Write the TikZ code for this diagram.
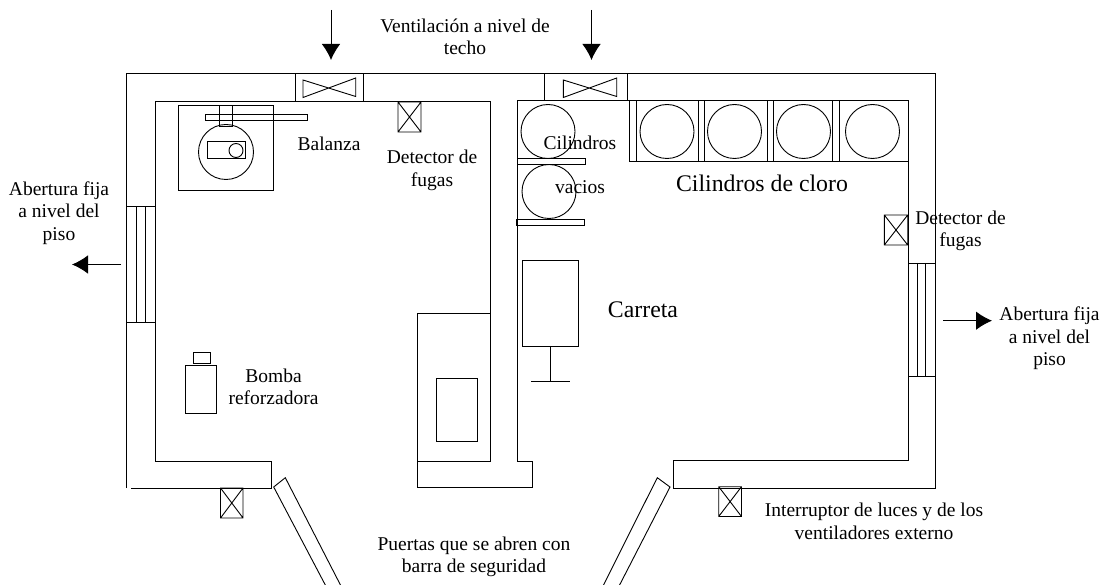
\documentclass[tikz,border=0pt]{standalone}
\usepackage{fontspec}
\setmainfont{Liberation Serif}
\usetikzlibrary{arrows.meta}
\tikzset{
  wall/.style={line width=0.9pt,black},
  lbl/.style={align=center,inner sep=0pt,font=\fontsize{19.5}{22.6}\selectfont},
  biglbl/.style={align=center,inner sep=0pt,font=\fontsize{23.8}{26}\selectfont},
  airflow/.style={line width=0.9pt,-{Latex[length=16pt,width=18.5pt]}}
}
\newcommand{\xbox}[4]{\draw[wall] (#1,#2) rectangle (#3,#4) (#1,#2) -- (#3,#4) (#1,#4) -- (#3,#2);}
\newcommand{\fantie}[2]{\draw[wall] (#1,80) -- (#2,96.5) -- (#2,78) -- (#1,97.5) -- cycle;}
\begin{document}
\begin{tikzpicture}[x=1pt,y=-1pt]
\useasboundingbox (0,0) rectangle (1104,585);
\clip (0,0) rectangle (1104,585);
% outer and inner walls, left room
\draw[wall] (126.5,488) -- (126.5,73) -- (935,73) -- (935,488) -- (673.7,488) -- (673.7,460) -- (908,460) -- (908,100) -- (517.5,100) -- (517.5,461.7) -- (532.7,461.7) -- (532.7,487.5) -- (417,487.5) -- (417,313) -- (490.5,313) -- (490.5,101) -- (155,101) -- (155,461.7) -- (271,461.7) -- (271,488) -- (131,488);
\draw[wall] (417,461.7) -- (490.5,461.7) -- (490.5,313);
% roof fans
\draw[wall] (295,73) rectangle (363.5,101);
\fantie{303}{355.7}
\draw[wall] (544.5,73) rectangle (627.5,100);
\fantie{563.3}{616.7}
\coordinate (a1s) at (331,10); \coordinate (a1e) at (331,60);
\coordinate (a2s) at (591.5,10); \coordinate (a2e) at (591.5,60);
\coordinate (a3s) at (121,264.5); \coordinate (a3e) at (72,264.5);
\coordinate (a4s) at (943,320.7); \coordinate (a4e) at (992,320.7);
\draw[airflow] (a1s) -- (a1e);
\draw[airflow] (a2s) -- (a2e);
\draw[airflow] (a3s) -- (a3e);
\draw[airflow] (a4s) -- (a4e);
% floor vents
\draw[wall] (126.5,206.5) rectangle (155,322) (136.5,206.5) -- (136.5,322) (145.5,206.5) -- (145.5,322);
\draw[wall] (908,263) rectangle (935,376.5) (917.7,263) -- (917.7,376.5) (925,263) -- (925,376.5);
% scale
\draw[wall] (178.5,105) rectangle (273.5,190.5);
\draw[wall] (205.5,114.5) rectangle (307.5,120);
\draw[wall] (219,105) rectangle (232.5,126);
\draw[wall] (226,152) circle[radius=27.5];
\draw[wall] (207,141.5) rectangle (245.5,158.5);
\draw[wall] (236,150.5) circle[radius=7];
% detectors and switches
\xbox{398}{102}{421}{132}
\xbox{884.3}{215}{907.7}{245}
\xbox{220.5}{488}{243}{518}
\xbox{718.7}{486.7}{741.5}{516.5}
% chlorine cylinders
\draw[wall] (629.5,100) -- (629.5,161.7) -- (908,161.7);
\foreach \a/\b in {629.5/636,698.5/704.5,767/773,832.5/839}{\draw[wall] (\a,100) rectangle (\b,161.7);}
\foreach \c in {667,734.5,803.5,872.5}{\draw[wall] (\c,131.5) circle[radius=27];}
% empty cylinders
\draw[wall] (548,131.5) circle[radius=27];
\draw[wall] (549,191.5) circle[radius=27];
\draw[wall] (517.5,158.5) rectangle (585,164);
\draw[wall] (516.5,219.5) rectangle (584,225);
% cart
\draw[wall] (522.5,260.5) rectangle (578.5,346);
\draw[wall] (550.5,346) -- (550.5,381) (531,381) -- (570,381);
% pump
\draw[wall] (185.5,365) rectangle (216,413.5);
\draw[wall] (193.5,352) rectangle (210.5,363.5);
% panel
\draw[wall] (436,378.5) rectangle (477.5,441);
% doors
\draw[wall] (273.7,487) -- (285.3,477.7) -- (342,588) -- (329,592) -- cycle;
\draw[wall] (670,487) -- (657.3,477.7) -- (602,588) -- (616,592) -- cycle;
% labels
\node[lbl] (vent) at (465,37) {Ventilación a nivel de\\techo};
\node[lbl] (absl) at (59,213) {Abertura fija\\a nivel del\\piso};
\node[lbl] (bal) at (329,144) {Balanza};
\node[lbl] (det1) at (432,170.5) {Detector de\\fugas};
\node[lbl] (bomba) at (273.5,387) {Bomba\\reforzadora};
\node[lbl] (cil) at (580,143) {Cilindros};
\node[lbl] (vac) at (580,187) {vacios};
\node[biglbl] (clo) at (762,183) {Cilindros de cloro};
\node[lbl] (det2) at (960.5,231) {Detector de\\fugas};
\node[biglbl] (car) at (643,310) {Carreta};
\node[lbl] (absr) at (1049.5,338.5) {Abertura fija\\a nivel del\\piso};
\node[lbl] (int) at (874,521.5) {Interruptor de luces y de los\\ventiladores externo};
\node[lbl] (pue) at (474,557) {Puertas que se abren con\\barra de seguridad};
\end{tikzpicture}
\end{document}
